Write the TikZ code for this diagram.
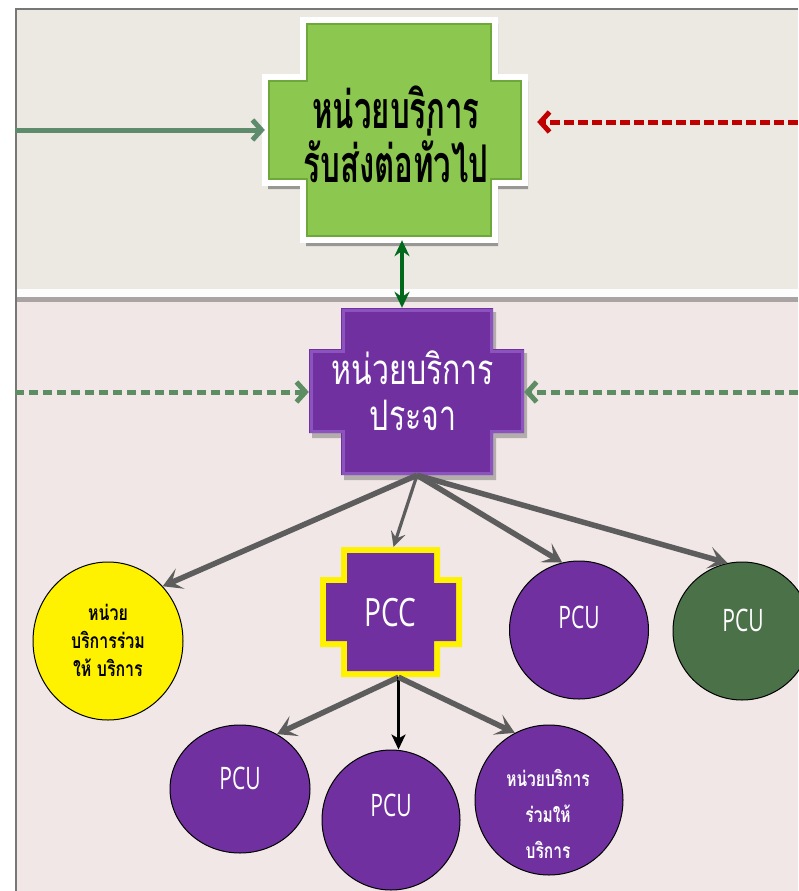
\documentclass[tikz,border=0pt]{standalone}
\usepackage{fontspec}
\setmainfont{Open Sans}
\newfontfamily\thai[Script=Thai]{Loma}
\usetikzlibrary{arrows.meta,shapes.geometric,calc}
\definecolor{topbg}{HTML}{ECE9E3}
\definecolor{botbg}{HTML}{F0E7E6}
\definecolor{sepgray}{HTML}{A9A3A3}
\definecolor{framegray}{HTML}{777777}
\definecolor{gfill}{HTML}{8CC84F}
\definecolor{gedge}{HTML}{6FA83A}
\definecolor{lgarrow}{HTML}{5E8B6C}
\definecolor{redarr}{HTML}{C00000}
\definecolor{dkgreen}{HTML}{00691C}
\definecolor{dgreen}{HTML}{5C8D63}
\definecolor{purp}{HTML}{7030A0}
\definecolor{purlight}{HTML}{8C52BE}
\definecolor{arrgray}{HTML}{5D5D5D}
\definecolor{pcugreen}{HTML}{4B7148}
\newcommand\mycross[8]{(#1,#5) -- (#2,#5) -- (#2,#6) -- (#4,#6) -- (#4,#7) -- (#2,#7) -- (#2,#8) -- (#1,#8) -- (#1,#7) -- (#3,#7) -- (#3,#6) -- (#1,#6) -- cycle}
\newcommand\sq[2]{\scalebox{#1}[1]{#2}}
\tikzset{
  box/.style={draw=none, inner sep=0pt, minimum width=#1},
  circ/.style={ellipse, draw=black, line width=1pt, inner sep=0pt},
  garrow/.style={draw=arrgray, line width=5.5pt, -{Stealth[length=19pt,width=22pt,inset=9pt]}},
  thinarrow/.style={draw=arrgray, line width=3.2pt, -{Stealth[length=15pt,width=15pt,inset=6pt]}},
  blackarrow/.style={draw=black, line width=3pt, -{Stealth[length=15pt,width=14pt,inset=4pt]}},
  leftarrow/.style={draw=lgarrow, line width=5pt, -{Straight Barb[length=9pt,width=20pt]}},
  redarrow/.style={draw=redarr, line width=5pt, dash pattern=on 10pt off 4pt, -{Straight Barb[length=9pt,width=20pt]}},
  dgarrow/.style={draw=dgreen, line width=5pt, dash pattern=on 9pt off 5pt, -{Straight Barb[length=9pt,width=20pt]}},
  darrow/.style={draw=dkgreen, line width=4.5pt, {Stealth[length=16pt,width=15pt]}-{Stealth[length=16pt,width=15pt]}},
  pcutext/.style={text=white, font=\fontsize{31}{31}\selectfont},
}
\begin{document}
\begin{tikzpicture}[x=1pt,y=-1pt]
\useasboundingbox (0,0) rectangle (798,891);
\fill[white] (0,0) rectangle (798,891);
\fill[topbg] (15,8) rectangle (798,292);
\fill[botbg] (15,300) rectangle (798,891);
\fill[white!92!topbg] (15,289) rectangle (798,297);
\fill[sepgray] (15,297) rectangle (798,302);
\draw[framegray,line width=2.5pt] (16,891) -- (16,9) -- (798,9);

% green cross
\fill[black,opacity=0.35] \mycross{306}{498}{268}{528}{24}{81}{189}{246};
\filldraw[white,line width=6pt,line join=miter] \mycross{303}{495}{265}{525}{20}{77}{183}{240};
\fill[gfill] \mycross{307}{491}{269}{521}{24}{81}{179}{236};
\draw[gedge,line width=1.5pt] \mycross{307}{491}{269}{521}{24}{81}{179}{236};
\node[box=260pt, minimum height=106pt] (gw) at (395,130) {};
\node[box=192pt, minimum height=220pt] (gn) at (399,130) {};
\node[font=\thai\bfseries\fontsize{52}{56}\selectfont, align=center] (gt) at (396,134) {\sq{0.6}{หน่วยบริการ}\\[-2pt]\sq{0.6}{รับส่งต่อทั่วไป}};

% purple cross
\fill[black,opacity=0.25] \mycross{344}{496}{312}{527}{312}{353}{438}{480};
\fill[purp] \mycross{341}{493}{309}{524}{308}{349}{433}{475};
\draw[purlight,line width=3pt] \mycross{343}{491}{311}{522}{310}{351}{431}{473};
\node[box=215pt, minimum height=84pt] (pw) at (416.5,391) {};
\node[box=152pt, minimum height=167pt] (pn) at (417,391.5) {};
\node[text=white, font=\thai\fontsize{42}{46}\selectfont, align=center] (pt) at (413,391) {\sq{0.72}{หน่วยบริการ}\\\sq{0.72}{ประจา}};

% PCC cross
\fill[yellow] \mycross{341}{440}{320}{462}{547}{577}{647}{677};
\fill[purp] \mycross{347}{434}{326}{456}{553}{583}{641}{671};
\node[box=99pt, minimum height=130pt] (pcc) at (390.5,612) {};
\node[text=white, font=\fontsize{39}{39}\selectfont] (pcct) at (390,613) {\sq{0.72}{PCC}};

% circles
\node[circ, fill=yellow, minimum width=150pt, minimum height=158pt] (yel) at (108,641) {};
\node[circ, fill=purp, minimum width=139pt, minimum height=138pt] (pcu1) at (579,630) {};
\node[circ, fill=pcugreen, minimum width=138pt, minimum height=138pt] (pcug) at (742,631) {};
\node[circ, fill=purp, minimum width=140pt, minimum height=128pt] (pcul) at (240,789) {};
\node[circ, fill=purp, minimum width=138pt, minimum height=140pt] (pcum) at (391,820) {};
\node[circ, fill=purp, minimum width=148pt, minimum height=150pt] (pcur) at (549,800) {};

\node[font=\thai\bfseries\fontsize{21}{28}\selectfont, align=center] (yt) at (108,640) {\sq{0.76}{หน่วย}\\\sq{0.76}{บริการร่วม}\\\sq{0.76}{ให้ บริการ}};
\node[pcutext] (t1) at (579,617) {\sq{0.68}{PCU}};
\node[pcutext] (t2) at (743,620) {\sq{0.68}{PCU}};
\node[pcutext] (t3) at (240,778) {\sq{0.68}{PCU}};
\node[pcutext] (t4) at (391,805) {\sq{0.68}{PCU}};
\node[text=white, font=\thai\bfseries\fontsize{21}{36}\selectfont, align=center] (t5) at (548,814) {\sq{0.74}{หน่วยบริการ}\\\sq{0.74}{ร่วมให้}\\\sq{0.74}{บริการ}};

% connectors
\coordinate (la) at (15,130);
\draw[leftarrow] (la) -- (gw.west);
\coordinate (ra) at (798,122);
\draw[redarrow, shorten >=12pt] (ra) -- (gw.east |- ra);
\coordinate (da) at (402,0);
\draw[darrow] (gn.south -| da) -- (pn.north -| da);
\coordinate (dl) at (15,392);
\draw[dgarrow] (dl) -- (pw.west |- dl);
\coordinate (dr) at (798,392);
\draw[dgarrow] (dr) -- (pw.east |- dr);

\draw[garrow] (pn.south) -- (yel.45);
\draw[thinarrow] (pn.south) -- ([xshift=3pt]pcc.north);
\draw[garrow] (pn.south) -- (pcu1.104);
\draw[garrow] (pn.south) -- (pcug.102);

\coordinate (pb) at ([xshift=8pt]pcc.south);
\draw[garrow] (pb) -- (pcul.56);
\draw[blackarrow] (pb) -- (pb |- pcum.north);
\draw[garrow] (pb) -- (pcur.117);
\end{tikzpicture}
\end{document}
